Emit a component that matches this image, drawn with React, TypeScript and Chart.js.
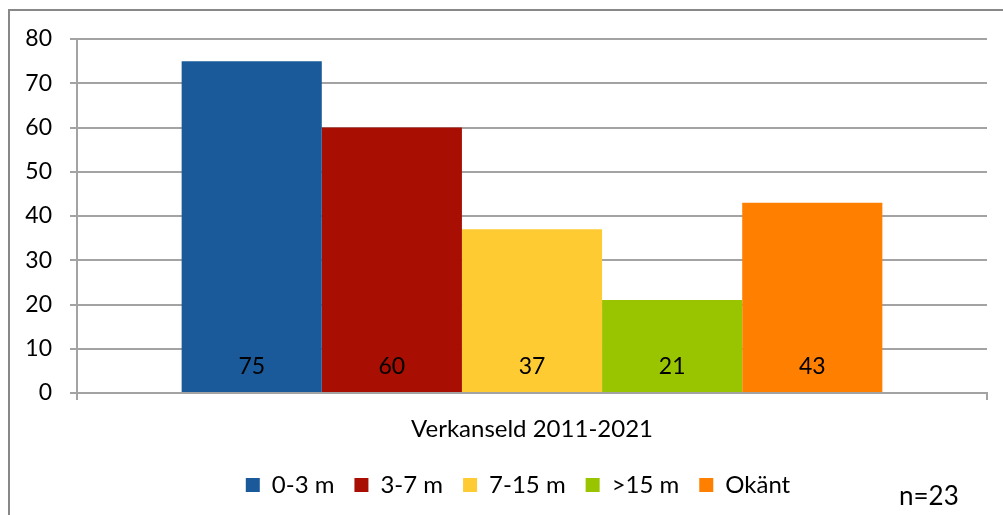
import React, { useEffect, useRef } from "react";
import { Chart, registerables } from "chart.js";

Chart.register(...registerables);

const categories = ["Verkanseld 2011-2021"];
const seriesNames = ["0-3 m", "3-7 m", "7-15 m", ">15 m", "Okänt"];
const seriesValues = [[75], [60], [37], [21], [43]];
const seriesColors = ["#1A5A9A", "#A80E02", "#FFCB33", "#99C400", "#FF7F00"];
const yTicks = [0, 10, 20, 30, 40, 50, 60, 70, 80];
const noteText = "n=23";

const FONT = "Lato, 'Open Sans', sans-serif";
const GRID = "#A3A3A3";

const decorPlugin = {
  id: "decor",
  afterLayout(chart: any) {
    const lg = chart.legend;
    if (lg) {
      lg.left = 49;
      lg.right = 987;
      lg.width = 938;
    }
  },
  beforeDraw(chart: any) {
    const ctx = chart.ctx;
    ctx.save();
    ctx.fillStyle = "#ffffff";
    ctx.fillRect(0, 0, chart.width, chart.height);
    ctx.strokeStyle = "#888888";
    ctx.lineWidth = 2;
    ctx.beginPath();
    ctx.moveTo(9, chart.height + 2);
    ctx.lineTo(9, 10);
    ctx.lineTo(chart.width + 2, 10);
    ctx.stroke();
    ctx.restore();
  },
  afterDraw(chart: any) {
    const ctx = chart.ctx;
    ctx.save();
    const yScale = chart.scales.y;
    chart.data.datasets.forEach((ds: any, i: number) => {
      const meta = chart.getDatasetMeta(i);
      meta.data.forEach((el: any, j: number) => {
        ctx.fillStyle = "#000000";
        ctx.font = `23px ${FONT}`;
        ctx.textAlign = "center";
        ctx.textBaseline = "middle";
        ctx.fillText(String(ds.data[j]), el.x, yScale.getPixelForValue(0) - 26);
      });
    });
    ctx.font = `26px ${FONT}`;
    ctx.textAlign = "left";
    ctx.textBaseline = "alphabetic";
    ctx.fillStyle = "#000000";
    ctx.fillText(noteText, 899, 505);
    ctx.restore();
  },
};

export default function App() {
  const ref = useRef<HTMLCanvasElement>(null);
  useEffect(() => {
    if (!ref.current) return;
    const chart = new Chart(ref.current, {
      type: "bar",
      data: {
        labels: categories,
        datasets: seriesNames.map((name, i) => ({
          label: name,
          data: seriesValues[i],
          backgroundColor: seriesColors[i],
          borderWidth: 0,
        })),
      },
      options: {
        animation: false,
        responsive: false,
        devicePixelRatio: 1,
        layout: { padding: { left: 0, right: 16, top: 39, bottom: 8 } },
        datasets: { bar: { categoryPercentage: 0.77, barPercentage: 1.0 } } as any,
        plugins: {
          legend: {
            position: "bottom",
            labels: {
              boxWidth: 14,
              boxHeight: 14,
              padding: 20,
              color: "#000000",
              font: { family: FONT, size: 24 },
            },
          },
          tooltip: { enabled: false },
        },
        scales: {
          x: {
            offset: true,
            grid: {
              display: true,
              drawOnChartArea: false,
              drawTicks: true,
              tickLength: 7,
              color: GRID,
              lineWidth: 2,
              offset: true,
            },
            border: { display: true, color: GRID, width: 2 },
            ticks: {
              color: "#000000",
              font: { family: FONT, size: 24 },
              padding: 15,
            },
            afterFit(scale: any) {
              scale.height = 60;
            },
          },
          y: {
            min: 0,
            max: 80,
            afterBuildTicks(scale: any) {
              scale.ticks = yTicks.map((v) => ({ value: v }));
            },
            grid: {
              color: GRID,
              lineWidth: 2,
              tickLength: 7,
              drawTicks: true,
            },
            border: { display: true, color: GRID, width: 2 },
            ticks: {
              color: "#000000",
              font: { family: FONT, size: 23 },
              padding: 18,
            },
            afterFit(scale: any) {
              scale.width = 77;
            },
          },
        },
      },
      plugins: [decorPlugin],
    });
    return () => chart.destroy();
  }, []);
  return (
    <div style={{ position: "fixed", left: 0, top: 0, width: 1003, height: 515 }}>
      <canvas ref={ref} width={1003} height={515} style={{ width: 1003, height: 515 }} />
    </div>
  );
}
